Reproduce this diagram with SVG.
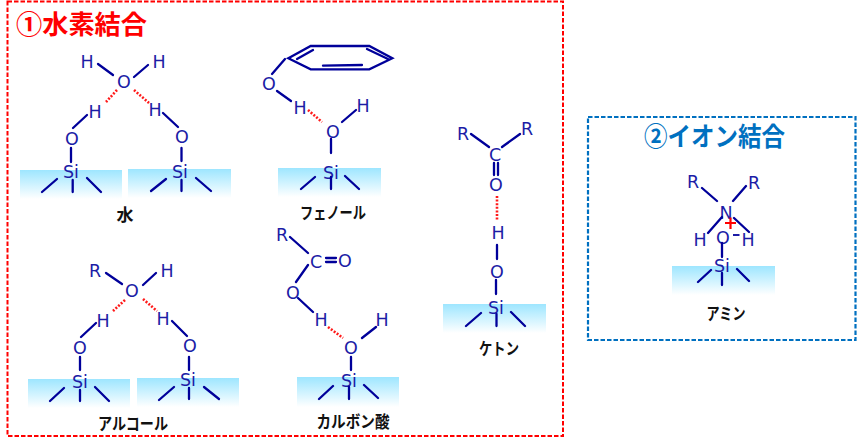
<svg xmlns="http://www.w3.org/2000/svg" width="857" height="444" viewBox="0 0 857 444">
<style>
.a{font:17.5px "DejaVu Sans",sans-serif;fill:#1c1ca6;text-anchor:middle}
.b{stroke:#00009a;stroke-width:2.3;fill:none;stroke-linecap:round}
.d{stroke:#ff1a1a;stroke-width:2.6;fill:none;stroke-dasharray:2 1.6}
.s{fill:url(#g)}
.l{font:bold 16.5px "Noto Sans CJK JP",sans-serif;fill:#111;text-anchor:middle}
.t{font:bold 26px "Noto Sans CJK JP",sans-serif}
</style>
<defs>
<linearGradient id="g" x1="0" y1="0" x2="0" y2="1"><stop offset="0" stop-color="#9ee6ff"/><stop offset="1" stop-color="#fff"/></linearGradient>
</defs>
<rect width="857" height="444" fill="#fff"/>
<g id="box-hydrogen">
<rect x="7.500" y="1.500" width="555.500" height="434.500" fill="none" stroke="#f00" stroke-width="2" stroke-dasharray="4.500 2"/>
<text class="t" x="16" y="34" fill="#f00" textLength="131" lengthAdjust="spacingAndGlyphs">①水素結合</text>
</g>
<g id="box-ionic">
<rect x="588" y="117" width="267.500" height="223" fill="none" stroke="#0070c0" stroke-width="2.200" stroke-dasharray="4.500 2"/>
<text class="t" x="644" y="146" fill="#0070c0" textLength="141" lengthAdjust="spacingAndGlyphs">②イオン結合</text>
</g>
<g id="water">
<rect class="s" x="20" y="170" width="102" height="29"/>
<rect class="s" x="128" y="169" width="103" height="29"/>
<text class="a" x="87" y="67.500">H</text><text class="a" x="159" y="67.500">H</text><text class="a" x="124" y="87.500">O</text>
<text class="a" x="95" y="117.500">H</text><text class="a" x="155" y="115.500">H</text>
<text class="a" x="72" y="144.500">O</text><text class="a" x="182" y="142.500">O</text>
<text class="a" x="71" y="178">Si</text><text class="a" x="180" y="177.500">Si</text>
<path class="b" d="M98 64L113 75M134 77L148 65M73 128L87 115M163 113L178 127M71 148V162M181.500 148V161M57 179L42 192M72.700 180V192M87 178L101 192M166 179L151 191M181.500 180V191M196 178L211 191"/>
<path class="d" d="M117 90L106 102M134 90L149 103"/>
<text class="l" x="125" y="221" style="font-size:17px">水</text>
</g>
<g id="phenol">
<rect class="s" x="278" y="168" width="103" height="29"/>
<text class="a" x="269" y="89.500">O</text><text class="a" x="300" y="113.500">H</text><text class="a" x="363" y="111.500">H</text><text class="a" x="333" y="137.500">O</text><text class="a" x="331" y="178.500">Si</text>
<path class="b" d="M288.300 58.300L310.700 46H369.300L392.300 58.300L369.300 69.300H310.700ZM297 59L313 50M323 65.700L362 65M367 49L388 59M285 59L272 74M277 91L291 101M342 122L356 110M331 139V153M315 177L301 189M331 177V189M345 176L359 189"/>
<path class="d" d="M308 110L322 122"/>
<text class="l" x="333" y="219" textLength="66" lengthAdjust="spacingAndGlyphs">フェノール</text>
</g>
<g id="alcohol">
<rect class="s" x="28" y="379" width="102" height="29"/>
<rect class="s" x="137" y="378" width="102" height="29"/>
<text class="a" x="95" y="276.500">R</text><text class="a" x="167" y="276.500">H</text><text class="a" x="132" y="296.500">O</text>
<text class="a" x="103" y="326.500">H</text><text class="a" x="163" y="324.500">H</text>
<text class="a" x="80" y="353.500">O</text><text class="a" x="190" y="351.500">O</text>
<text class="a" x="80" y="387.500">Si</text><text class="a" x="188" y="385.500">Si</text>
<path class="b" d="M106 273L122 284M143 285L156 273M81 337L96 323M172 321L187 336M80 357V370M189 357V370M64 388L50 401M80 390V401M95 387L109 401M174 387L159 400M189 388V399M204 387L219 399"/>
<path class="d" d="M125 300L113 311M143 299L157 311"/>
<text class="l" x="133" y="430" textLength="70" lengthAdjust="spacingAndGlyphs">アルコール</text>
</g>
<g id="carboxylic">
<rect class="s" x="297" y="377" width="102" height="30"/>
<text class="a" x="282" y="240.500">R</text><text class="a" x="316" y="267.500">C</text><text class="a" x="345" y="266.500">O</text><text class="a" x="293" y="298.500">O</text><text class="a" x="321" y="325.500">H</text><text class="a" x="382" y="325.500">H</text><text class="a" x="351" y="353.500">O</text><text class="a" x="349" y="386.500">Si</text>
<path class="b" d="M290 237L308 253M326 258H336M326 262H336M308 265L296 282M298 298L313 312M362 338L376 327M351 357V370M333 386L319 399M349 387V399M364 385L378 398"/>
<path class="d" d="M328 327L343 338"/>
<text class="l" x="353" y="428" textLength="73" lengthAdjust="spacingAndGlyphs">カルボン酸</text>
</g>
<g id="ketone">
<rect class="s" x="443" y="304" width="103" height="29"/>
<text class="a" x="463" y="139.500">R</text><text class="a" x="527" y="134.500">R</text><text class="a" x="495" y="160.500">C</text><text class="a" x="496" y="190.500">O</text><text class="a" x="498" y="238.500">H</text><text class="a" x="497" y="277.500">O</text><text class="a" x="496" y="313.500">Si</text>
<path class="b" d="M471 134L489 147M502 147L520 134M494 163V175M498 163V175M497 245V259M496 280V294M481 313L466 326M496.500 314V326M511 312L525 326"/>
<path class="d" d="M497 196V220"/>
<text class="l" x="499" y="355" textLength="40" lengthAdjust="spacingAndGlyphs">ケトン</text>
</g>
<g id="amine">
<rect class="s" x="672" y="266" width="103" height="29"/>
<text class="a" x="693" y="187.500">R</text><text class="a" x="754" y="188.500">R</text><text class="a" x="726" y="218.500">N</text><text class="a" x="700" y="245.500">H</text><text class="a" x="748" y="245.500">H</text><text class="a" x="723" y="243.500">O</text><text class="a" x="722" y="271.500">Si</text>
<path class="b" d="M702 188L717 201M733 201L746 186M722 217L708 233M734 218L749 232M722 243V257M711 270L698 282M722 273V285M737 269L749 281"/>
<path d="M733 235H739.500" stroke="#1c1ca6" stroke-width="2"/>
<path d="M725 223H736M730.500 217.500V229" stroke="#f00" stroke-width="2.200" fill="none"/>
<text class="l" x="726" y="320" textLength="39" lengthAdjust="spacingAndGlyphs">アミン</text>
</g>
</svg>
